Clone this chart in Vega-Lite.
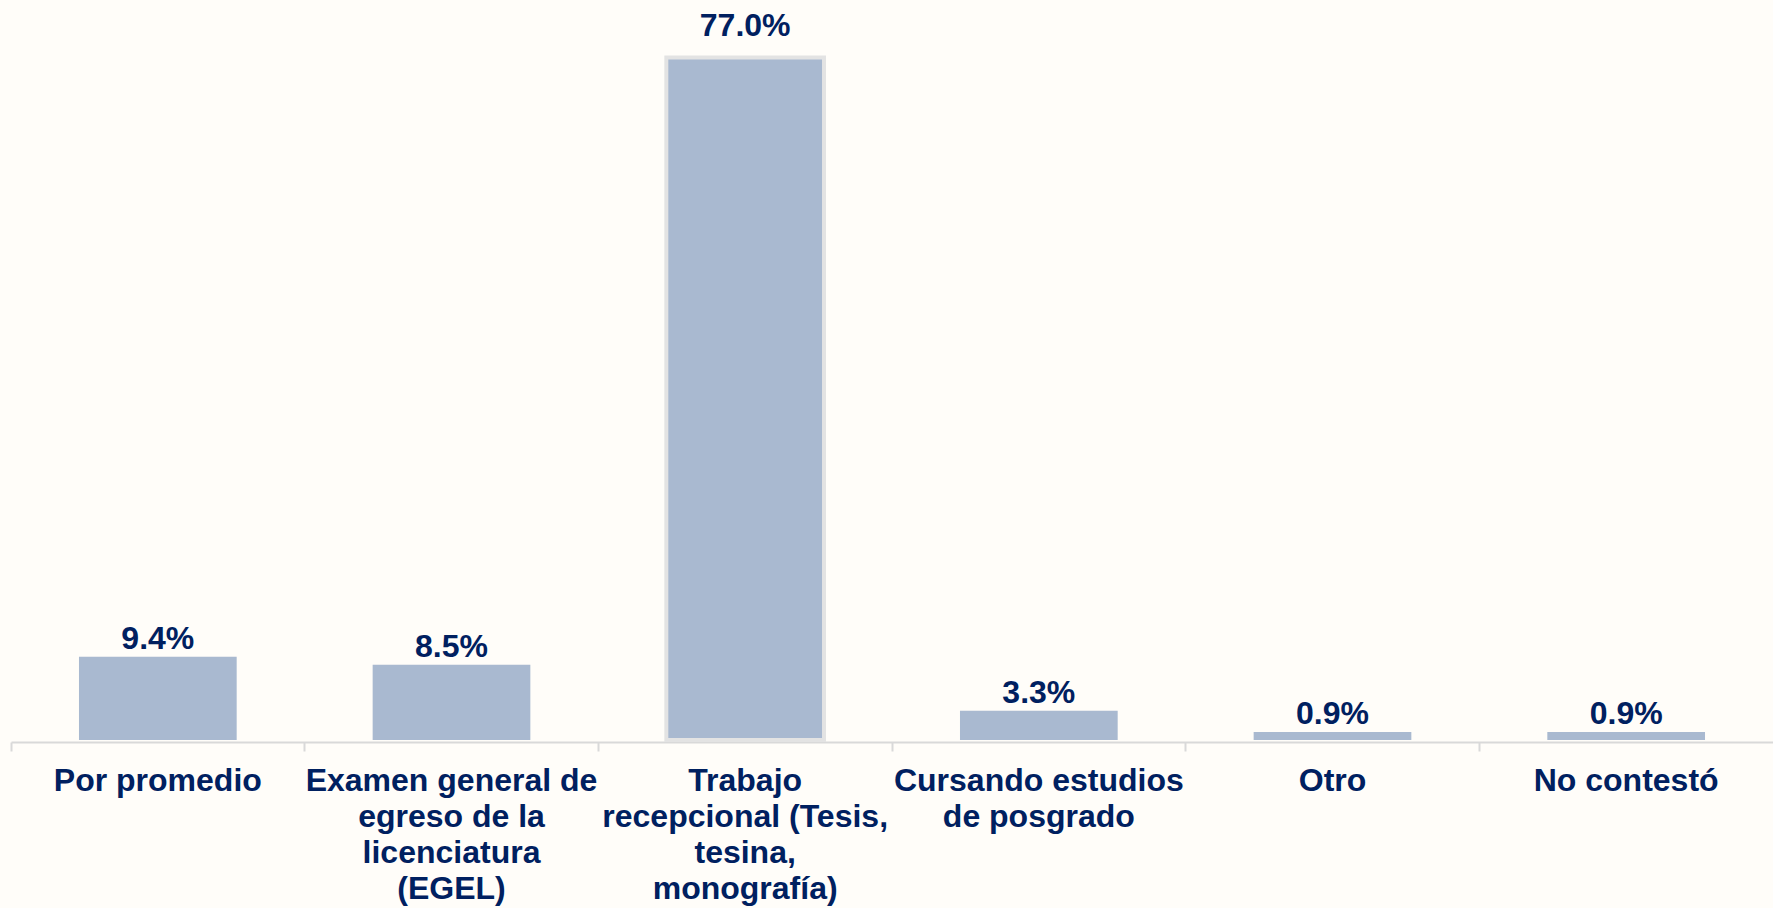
{
  "$schema": "https://vega.github.io/schema/vega-lite/v6.json",
  "width": 1762,
  "height": 740,
  "autosize": "none",
  "padding": {"left": 11, "top": 0, "right": 0, "bottom": 168},
  "background": "#fffdf9",
  "config": {"view": {"stroke": null}, "font": "Liberation Sans"},
  "data": {
    "values": [
      {"categoria": "Por promedio", "porcentaje": 0.094},
      {"categoria": "Examen general de|egreso de la|licenciatura|(EGEL)", "porcentaje": 0.085},
      {"categoria": "Trabajo|recepcional (Tesis,|tesina,|monografía)", "porcentaje": 0.770},
      {"categoria": "Cursando estudios|de posgrado", "porcentaje": 0.033},
      {"categoria": "Otro", "porcentaje": 0.009},
      {"categoria": "No contestó", "porcentaje": 0.009}
    ]
  },
  "encoding": {
    "x": {
      "field": "categoria",
      "type": "nominal",
      "sort": null,
      "scale": {"paddingInner": 0, "paddingOuter": 0},
      "axis": {
        "title": null,
        "labelAngle": 0,
        "labelExpr": "split(datum.label, '|')",
        "labelFont": "Liberation Sans",
        "labelFontSize": 32,
        "labelFontWeight": "bold",
        "labelColor": "#002060",
        "labelLineHeight": 36,
        "labelPadding": 14,
        "labelLimit": 0,
        "bandPosition": 0,
        "domainColor": "#d9d9d9",
        "domainWidth": 2,
        "tickColor": "#d9d9d9",
        "tickWidth": 2,
        "tickSize": 9,
        "offset": 2
      }
    },
    "y": {
      "field": "porcentaje",
      "type": "quantitative",
      "scale": {"domain": [0, 0.835], "nice": false},
      "axis": null
    }
  },
  "layer": [
    {
      "mark": {"type": "bar", "width": {"band": 0.537}, "color": "#a9b9d0", "strokeWidth": 4},
      "encoding": {
        "stroke": {
          "condition": {"test": "datum.porcentaje > 0.5", "value": "#e3e3e3"},
          "value": "transparent"
        }
      }
    },
    {
      "transform": [{"filter": "datum.porcentaje <= 0.5"}],
      "mark": {
        "type": "text",
        "baseline": "alphabetic",
        "dy": -8,
        "font": "Liberation Sans",
        "fontSize": 32,
        "fontWeight": "bold",
        "color": "#002060"
      },
      "encoding": {
        "text": {"field": "porcentaje", "type": "quantitative", "format": ".1%"}
      }
    },
    {
      "transform": [{"filter": "datum.porcentaje > 0.5"}],
      "mark": {
        "type": "text",
        "baseline": "alphabetic",
        "dy": -22,
        "font": "Liberation Sans",
        "fontSize": 32,
        "fontWeight": "bold",
        "color": "#002060"
      },
      "encoding": {
        "text": {"field": "porcentaje", "type": "quantitative", "format": ".1%"}
      }
    }
  ]
}
